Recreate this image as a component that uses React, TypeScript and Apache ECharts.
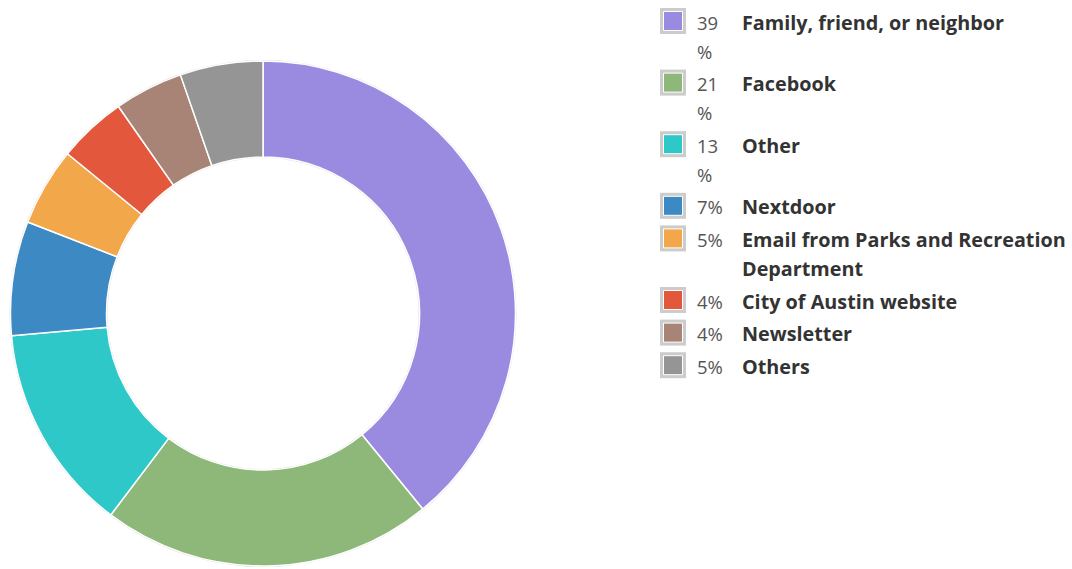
import React, { useEffect, useRef } from "react";
import * as echarts from "echarts";

const categories = [
  "Family, friend, or neighbor",
  "Facebook",
  "Other",
  "Nextdoor",
  "Email from Parks and Recreation Department",
  "City of Austin website",
  "Newsletter",
  "Others",
];
const values = [39.1, 21.2, 13.3, 7.3, 5.0, 4.4, 4.4, 5.3];
const colors = [
  "#9a8be1",
  "#8db879",
  "#2fc8c8",
  "#3d89c4",
  "#f2a74b",
  "#e3573d",
  "#a88477",
  "#959595",
];

const FONT = '"Open Sans", "Noto Sans", sans-serif';
const LABEL_FONT = `bold 19.8px ${FONT}`;
const PCT_FONT = `18.5px ${FONT}`;

function wrapText(text: string, font: string, maxW: number): string[] {
  const c = document.createElement("canvas").getContext("2d");
  if (!c) return [text];
  c.font = font;
  const words = text.split(" ");
  const lines: string[] = [];
  let cur = "";
  for (const w of words) {
    const t = cur ? cur + " " + w : w;
    if (c.measureText(t).width > maxW && cur) {
      lines.push(cur);
      cur = w;
    } else cur = t;
  }
  if (cur) lines.push(cur);
  return lines;
}

export default function App() {
  const ref = useRef<HTMLDivElement>(null);
  useEffect(() => {
    if (!ref.current) return;
    const chart = echarts.init(ref.current, undefined, { renderer: "svg" });
    const total = values.reduce((a, b) => a + b, 0);

    const graphics: any[] = [];
    const lineH = 29;
    const gap = 3.6;
    let y = 8;
    categories.forEach((name, i) => {
      const pct = Math.round((values[i] / total) * 100);
      const pctLines = pct >= 10 ? [String(pct), "%"] : [pct + "%"];
      const labelLines = wrapText(name, LABEL_FONT, 330);
      const n = Math.max(pctLines.length, labelLines.length);
      graphics.push({
        type: "rect",
        shape: { x: 660, y: y, width: 26, height: 26 },
        style: { fill: "#cccccc" },
      });
      graphics.push({
        type: "rect",
        shape: { x: 663.5, y: y + 3.5, width: 19, height: 19 },
        style: { fill: colors[i], stroke: "#ffffff", lineWidth: 1 },
      });
      graphics.push({
        type: "text",
        x: 697,
        y: y - 0.5,
        style: {
          text: pctLines.join("\n"),
          font: PCT_FONT,
          fill: "#555555",
          lineHeight: lineH,
          verticalAlign: "top",
          align: "left",
        },
      });
      graphics.push({
        type: "text",
        x: 742,
        y: y - 0.5,
        style: {
          text: labelLines.join("\n"),
          font: LABEL_FONT,
          fill: "#333333",
          lineHeight: lineH,
          verticalAlign: "top",
          align: "left",
        },
      });
      y += n * lineH + gap;
    });

    chart.setOption({
      animation: false,
      backgroundColor: "#ffffff",
      series: [
        {
          type: "pie",
          silent: true,
          center: [263, 313.5],
          radius: [155.5, 253.5],
          label: { show: false },
          labelLine: { show: false },
          itemStyle: { color: "#dddddd" },
          data: [{ value: 1, name: "bg" }],
          z: 1,
        },
        {
          type: "pie",
          center: [263, 313.5],
          radius: [156.5, 252.5],
          startAngle: 90,
          clockwise: true,
          label: { show: false },
          labelLine: { show: false },
          itemStyle: { borderColor: "#ffffff", borderWidth: 1.5 },
          data: categories.map((c, i) => ({
            name: c,
            value: values[i],
            itemStyle: { color: colors[i] },
          })),
          z: 2,
        },
      ],
      graphic: graphics,
    });
    return () => chart.dispose();
  }, []);
  return (
    <div
      ref={ref}
      style={{ position: "fixed", left: 0, top: 0, width: 1072, height: 569 }}
    />
  );
}
